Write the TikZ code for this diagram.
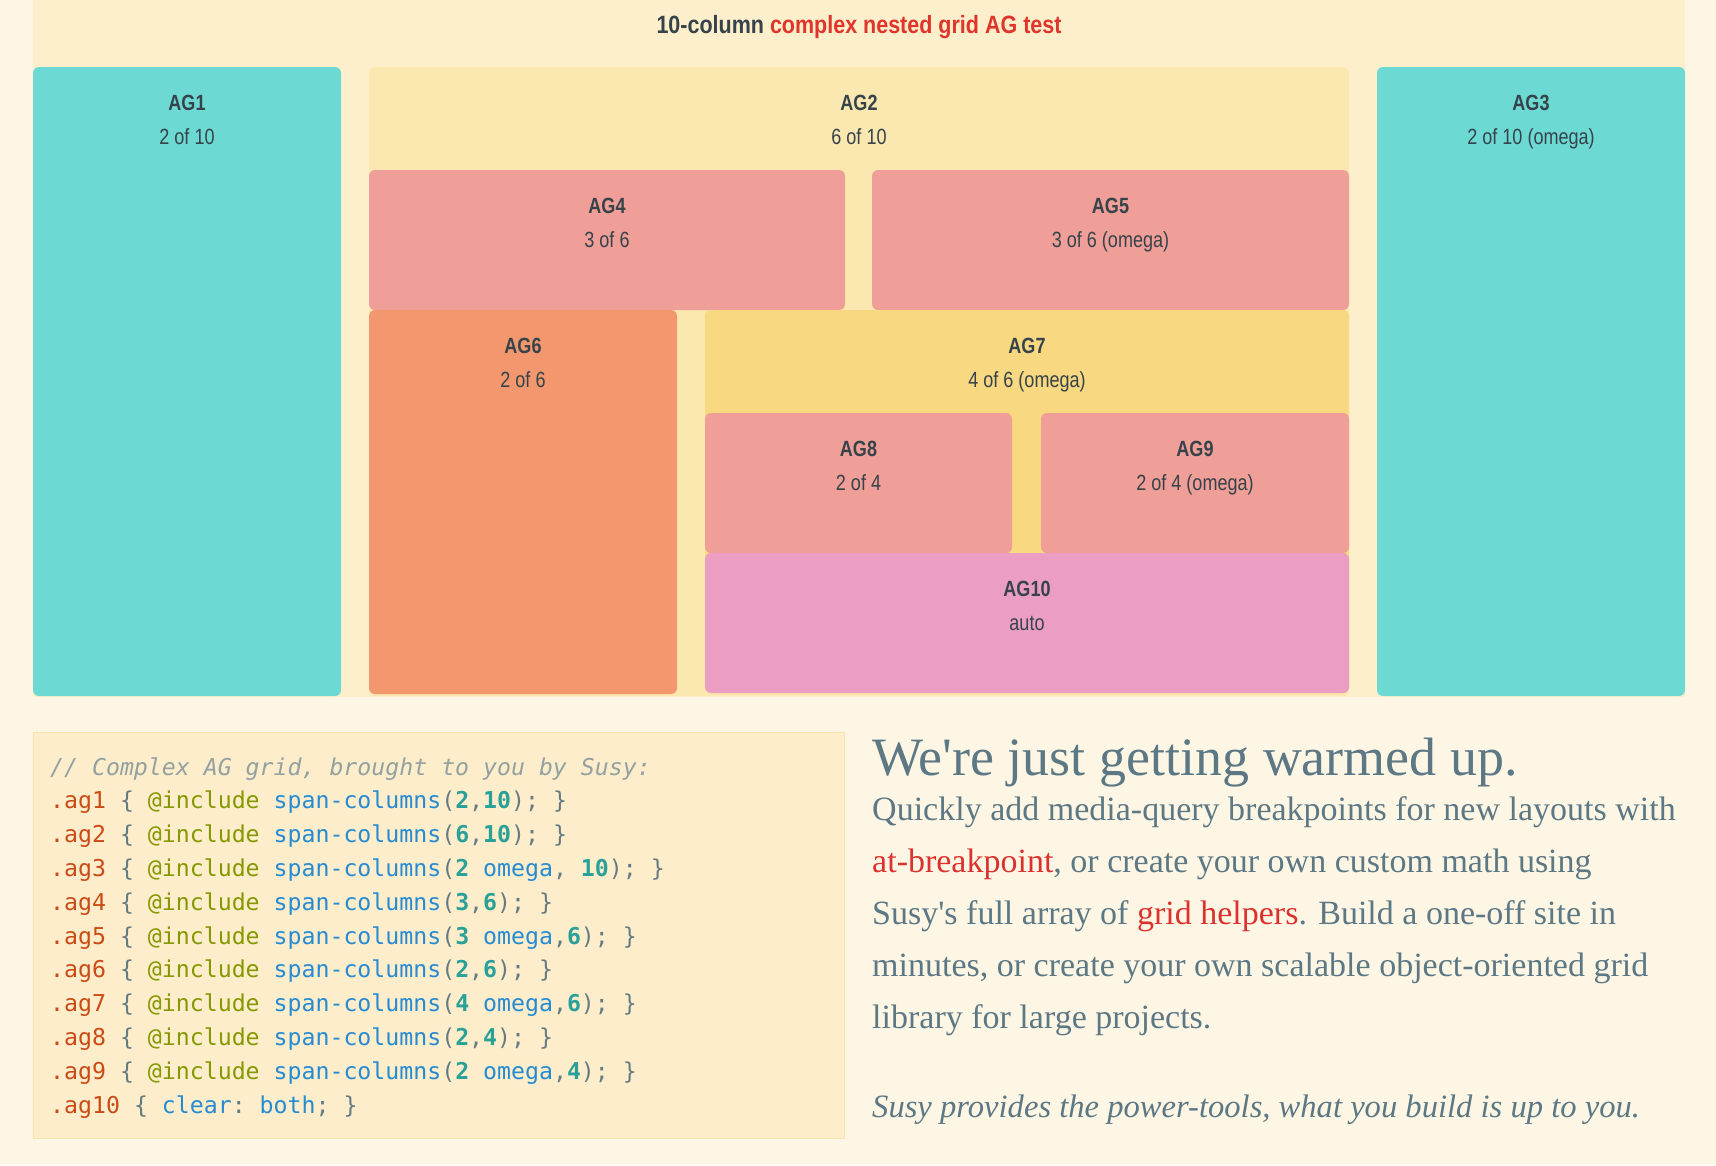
\documentclass[tikz,border=0pt]{standalone}
\usepackage{fontspec}
\setmainfont{Liberation Serif}[Ligatures=TeXOff]
\setmonofont{DejaVu Sans Mono}
\newfontfamily\agsans{Liberation Sans}[FakeStretch=0.82]
\newfontfamily\agsanshead{Liberation Sans}[FakeStretch=0.86]
\definecolor{pagebg}{HTML}{FEF6E4}
\definecolor{contbg}{HTML}{FDEFCB}
\definecolor{agteal}{HTML}{6CDAD3}
\definecolor{agtwo}{HTML}{FBE8B0}
\definecolor{agpink}{HTML}{EF9E98}
\definecolor{agorange}{HTML}{F3986E}
\definecolor{agyellow}{HTML}{F8D880}
\definecolor{agmagenta}{HTML}{EC9EC2}
\definecolor{codebg}{HTML}{FDEDCA}
\definecolor{codeborder}{HTML}{FBE3AF}
\definecolor{labelink}{HTML}{36434A}
\definecolor{headred}{HTML}{E0352B}
\definecolor{slate}{HTML}{5C7884}
\definecolor{linkred}{HTML}{DC322F}
\definecolor{solcomment}{HTML}{93A1A1}
\definecolor{solsel}{HTML}{CB4B16}
\definecolor{solpun}{HTML}{657B83}
\definecolor{solkw}{HTML}{859900}
\definecolor{solfn}{HTML}{268BD2}
\definecolor{solnum}{HTML}{2AA198}
\newcommand\CdSel[1]{\textcolor{solsel}{#1}}
\newcommand\CdPun[1]{\textcolor{solpun}{#1}}
\newcommand\CdKw[1]{\textcolor{solkw}{#1}}
\newcommand\CdFn[1]{\textcolor{solfn}{#1}}
\newcommand\CdNum[1]{\textcolor{solnum}{\bfseries #1}}
\newcommand\LinkRed[1]{\textcolor{linkred}{#1}}
\begin{document}
\begin{tikzpicture}[x=1pt,y=-1pt,
  agbox/.style={rounded corners=6pt},
  agtitle/.style={anchor=base, inner sep=0pt, text=labelink, font=\agsans\bfseries\fontsize{22}{26}\selectfont},
  agsub/.style={anchor=base, inner sep=0pt, text=labelink, font=\agsans\fontsize{22}{26}\selectfont},
  codeline/.style={anchor=base west, inner sep=0pt, text=solpun, font=\ttfamily\fontsize{23.2}{28}\selectfont},
  bodyline/.style={anchor=base west, inner sep=0pt, text=slate, font=\rmfamily\fontsize{34}{52}\selectfont}]
\useasboundingbox (0,0) rectangle (1716,1165);
\fill[pagebg] (0,0) rectangle (1716,1165);
\fill[contbg] (33,0) rectangle (1685,697);
% boxes
\fill[agteal, agbox] (33,67) rectangle (341,696);
\fill[agtwo, agbox] (369,67) rectangle (1349,696);
\fill[agteal, agbox] (1377,67) rectangle (1685,696);
\fill[agpink, agbox] (369,170) rectangle (845,310);
\fill[agpink, agbox] (872,170) rectangle (1349,310);
\fill[agorange, agbox] (369,310) rectangle (677,694);
\fill[agyellow, agbox] (705,310) rectangle (1349,693);
\fill[agpink, agbox] (705,413) rectangle (1012,553);
\fill[agpink, agbox] (1041,413) rectangle (1349,553);
\fill[agmagenta, agbox] (705,553) rectangle (1349,693);
% header
\node[anchor=base, inner sep=0pt, text=labelink, font=\agsanshead\bfseries\fontsize{25}{30}\selectfont] (head) at (859,33) {10-column \textcolor{headred}{complex nested grid AG test}};
% labels
\node[agtitle] (t1) at (187,110) {AG1};   \node[agsub] (s1) at (187,144) {2 of 10};
\node[agtitle] (t2) at (859,110) {AG2};   \node[agsub] (s2) at (859,144) {6 of 10};
\node[agtitle] (t3) at (1531,110) {AG3};  \node[agsub] (s3) at (1531,144) {2 of 10 (omega)};
\node[agtitle] (t4) at (607,213) {AG4};   \node[agsub] (s4) at (607,247) {3 of 6};
\node[agtitle] (t5) at (1110.5,213) {AG5};\node[agsub] (s5) at (1110.5,247) {3 of 6 (omega)};
\node[agtitle] (t6) at (523,353) {AG6};   \node[agsub] (s6) at (523,387) {2 of 6};
\node[agtitle] (t7) at (1027,353) {AG7};  \node[agsub] (s7) at (1027,387) {4 of 6 (omega)};
\node[agtitle] (t8) at (858.5,456) {AG8}; \node[agsub] (s8) at (858.5,490) {2 of 4};
\node[agtitle] (t9) at (1195,456) {AG9};  \node[agsub] (s9) at (1195,490) {2 of 4 (omega)};
\node[agtitle] (t10) at (1027,596) {AG10};\node[agsub] (s10) at (1027,630) {auto};
% code box
\filldraw[fill=codebg, draw=codeborder, line width=1pt] (33.5,732.5) rectangle (844.5,1138.5);
\node[codeline, text=solcomment, font=\ttfamily\itshape\fontsize{23.2}{28}\selectfont] (c0) at (50,775) {// Complex AG grid, brought to you by Susy:};
\node[codeline] (c1) at (50,808.8) {\CdSel{.ag1} \{ \CdKw{@include} \CdFn{span-columns}(\CdNum{2},\CdNum{10}); \}};
\node[codeline] (c2) at (50,842.6) {\CdSel{.ag2} \{ \CdKw{@include} \CdFn{span-columns}(\CdNum{6},\CdNum{10}); \}};
\node[codeline] (c3) at (50,876.4) {\CdSel{.ag3} \{ \CdKw{@include} \CdFn{span-columns}(\CdNum{2} \CdFn{omega}, \CdNum{10}); \}};
\node[codeline] (c4) at (50,910.2) {\CdSel{.ag4} \{ \CdKw{@include} \CdFn{span-columns}(\CdNum{3},\CdNum{6}); \}};
\node[codeline] (c5) at (50,944) {\CdSel{.ag5} \{ \CdKw{@include} \CdFn{span-columns}(\CdNum{3} \CdFn{omega},\CdNum{6}); \}};
\node[codeline] (c6) at (50,977.8) {\CdSel{.ag6} \{ \CdKw{@include} \CdFn{span-columns}(\CdNum{2},\CdNum{6}); \}};
\node[codeline] (c7) at (50,1011.6) {\CdSel{.ag7} \{ \CdKw{@include} \CdFn{span-columns}(\CdNum{4} \CdFn{omega},\CdNum{6}); \}};
\node[codeline] (c8) at (50,1045.4) {\CdSel{.ag8} \{ \CdKw{@include} \CdFn{span-columns}(\CdNum{2},\CdNum{4}); \}};
\node[codeline] (c9) at (50,1079.2) {\CdSel{.ag9} \{ \CdKw{@include} \CdFn{span-columns}(\CdNum{2} \CdFn{omega},\CdNum{4}); \}};
\node[codeline] (c10) at (50,1113) {\CdSel{.ag10} \{ \CdFn{clear}: \CdFn{both}; \}};
% right text
\node[bodyline, font=\rmfamily\fontsize{54}{60}\selectfont] (h1) at (872,775) {We're just getting warmed up.};
\node[bodyline] (b1) at (872,820) {Quickly add media-query breakpoints for new layouts with};
\node[bodyline] (b2) at (872,872) {\LinkRed{at-breakpoint}, or create your own custom math using};
\node[bodyline] (b3) at (872,924) {Susy's full array of \LinkRed{grid helpers}. Build a one-off site in};
\node[bodyline] (b4) at (872,976) {minutes, or create your own scalable object-oriented grid};
\node[bodyline] (b5) at (872,1028) {library for large projects.};
\node[bodyline, font=\rmfamily\itshape\fontsize{32.6}{52}\selectfont] (b6) at (872,1117) {Susy provides the power-tools, what you build is up to you.};
\end{tikzpicture}
\end{document}
